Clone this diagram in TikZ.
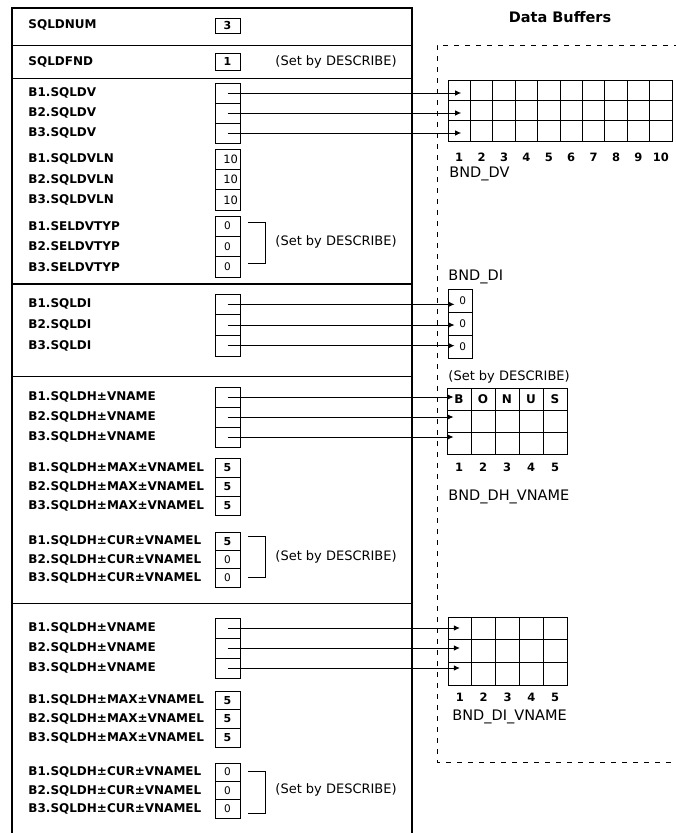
\documentclass[tikz,border=0pt]{standalone}
\usepackage{fontspec}
\setmainfont{DejaVu Sans}
\usetikzlibrary{arrows.meta,calc,positioning}

\tikzset{
  fld/.style={anchor=west, inner sep=0pt, font=\fontsize{12}{14}\selectfont\bfseries},
  slot/.style={draw, minimum width=25pt, minimum height=#1, inner sep=0pt, font=\fontsize{10.5}{12}\selectfont},
  note/.style={anchor=west, inner sep=0pt, font=\fontsize{13}{15}\selectfont},
  bufcell/.style={draw, inner sep=0pt},
  idx/.style={inner sep=0pt, font=\fontsize{11.5}{13}\selectfont\bfseries},
  bufname/.style={anchor=west, inner sep=0pt, font=\fontsize{14.5}{17}\selectfont},
  ptr/.style={-{Latex[length=6pt,width=5.5pt]}},
}

\begin{document}
\begin{tikzpicture}[x=1pt, y=-1pt, line width=0.9pt]
\useasboundingbox (0,0) rectangle (676,833);
\fill[white] (0,0) rectangle (676,833);
\clip (0,0) rectangle (676,833);

% Descriptor area
\draw[line width=1.2pt] (12,840) |- (412,8) -- (412,840);
\draw (12,45) -- (412,45);
\draw (12,78) -- (412,78);
\draw[line width=2pt] (12,284) -- (412,284);
\draw (12,376) -- (412,376);
\draw (12,603) -- (412,603);

% SQLDNUM / SQLDFND
\node[fld] (lnum) at (28,25) {SQLDNUM};
\node[slot=15pt, font=\fontsize{11}{13}\selectfont\bfseries] (num) at (227.5,25.5) {3};
\node[fld] (lfnd) at (28,62) {SQLDFND};
\node[slot=17pt, font=\fontsize{11}{13}\selectfont\bfseries] (fnd) at (227.5,61.5) {1};
\node[note] (sfnd) at (275,62) {(Set by DESCRIBE)};

% SQLDV pointers
\foreach \i in {1,2,3} {
  \node[slot=20pt] (dv\i) at (227.5,73+20*\i) {};
  \node[fld] (ldv\i) at (28,73+20*\i) {B\i.SQLDV};
}
% SQLDVLN lengths
\foreach \i in {1,2,3} {
  \node[slot=20.33pt, text width=21pt, align=right, inner xsep=2pt, font=\fontsize{11.5}{13}\selectfont] (vln\i) at (227.5,138.83+20.33*\i) {10};
  \node[fld] (lvln\i) at (28,138.83+20.33*\i) {B\i.SQLDVLN};
}
% SELDVTYP types
\foreach \i in {1,2,3} {
  \node[slot=20.33pt] (ty\i) at (227.5,205.83+20.33*\i) {0};
  \node[fld] (lty\i) at (28,205.83+20.33*\i) {B\i.SELDVTYP};
}
\draw ([xshift=8pt,yshift=4pt]ty1.east) -- ++(17,0) |- ([xshift=8pt,yshift=3pt]ty3.east);
\node[note] (sty) at (275,242) {(Set by DESCRIBE)};

% SQLDI pointers
\foreach \i in {1,2,3} {
  \node[slot=20.67pt] (di\i) at (227.5,283.67+20.67*\i) {};
  \node[fld] (ldi\i) at (28,283.67+20.67*\i) {B\i.SQLDI};
}

% first SQLDH group
\foreach \i in {1,2,3} {
  \node[slot=20pt] (dh\i) at (227.5,377+20*\i) {};
  \node[fld] (ldh\i) at (28,377+20*\i) {B\i.SQLDH±VNAME};
}
\foreach \i in {1,2,3} {
  \node[slot=19pt, font=\fontsize{11}{13}\selectfont\bfseries] (mx\i) at (227.5,448.5+19*\i) {5};
  \node[fld] (lmx\i) at (28,448.5+19*\i) {B\i.SQLDH±MAX±VNAMEL};
}
\foreach \i/\v in {1/{\bfseries\fontsize{11}{13}\selectfont 5},2/0,3/0} {
  \node[slot=18.33pt] (cu\i) at (227.5,522.83+18.33*\i) {\v};
  \node[fld] (lcu\i) at (28,522.83+18.33*\i) {B\i.SQLDH±CUR±VNAMEL};
}
\draw ([xshift=8pt,yshift=5pt]cu1.east) -- ++(17,0) |- ([xshift=8pt]cu3.east);
\node[note] (scu) at (275,557) {(Set by DESCRIBE)};

% second SQLDH group
\foreach \i in {1,2,3} {
  \node[slot=20pt] (dhh\i) at (227.5,608+20*\i) {};
  \node[fld] (ldhh\i) at (28,608+20*\i) {B\i.SQLDH±VNAME};
}
\foreach \i in {1,2,3} {
  \node[slot=18.67pt, font=\fontsize{11}{13}\selectfont\bfseries] (mxx\i) at (227.5,681.67+18.67*\i) {5};
  \node[fld] (lmxx\i) at (28,681.67+18.67*\i) {B\i.SQLDH±MAX±VNAMEL};
}
\foreach \i in {1,2,3} {
  \node[slot=18.33pt] (cuu\i) at (227.5,753.83+18.33*\i) {0};
  \node[fld] (lcuu\i) at (28,753.83+18.33*\i) {B\i.SQLDH±CUR±VNAMEL};
}
\draw ([xshift=8pt,yshift=1pt]cuu1.east) -- ++(17,0) |- ([xshift=8pt,yshift=-5pt]cuu3.east);
\node[note] (scuu) at (275,790) {(Set by DESCRIBE)};

% Data buffers
\node[inner sep=0pt, font=\fontsize{14.5}{17}\selectfont\bfseries] (title) at (560,17) {Data Buffers};
\draw[dash pattern=on 5pt off 6pt] (690,45) -| (437,762) -- (690,762);

% BND_DV
\foreach \r in {1,2,3}
  \foreach \c in {1,...,10}
    \node[bufcell, minimum width=22.4pt, minimum height=20.33pt] (dvb\r\c) at (448+22.4*\c-11.2,80+20.33*\r-10.17) {};
\foreach \c in {1,...,10}
  \node[idx] (dvn\c) at (448+22.4*\c-11.2,157) {\c};
\node[bufname] (bdv) at (449,174) {BND\_DV};
\foreach \i in {1,2,3}
  \draw[ptr, shorten >=-2pt] (dv\i.center) -- (dv\i.center -| dvb\i1.center);

% BND_DI
\node[bufname] (bdi) at (448,277) {BND\_DI};
\foreach \i in {1,2,3}
  \node[bufcell, minimum width=24pt, minimum height=23pt, text width=12pt, align=right, inner xsep=6pt, font=\fontsize{10.5}{12}\selectfont] (dib\i) at (460,277.5+23*\i) {0};
\foreach \i in {1,2,3}
  \draw[ptr, shorten >=-7pt] (di\i.center) -- (di\i.center -| dib\i.west);

% BND_DH_VNAME
\node[note] (sdh) at (448,377) {(Set by DESCRIBE)};
\foreach \r in {1,2,3}
  \foreach \c in {1,...,5}
    \node[bufcell, minimum width=24pt, minimum height=22pt] (dhb\r\c) at (447+24*\c-12,388+22*\r-11) {};
\foreach \c/\ch in {1/B,2/O,3/N,4/U,5/S}
  \node[font=\fontsize{12}{14}\selectfont\bfseries, inner sep=0pt] (dhl\c) at (dhb1\c) {\ch};
\foreach \c in {1,...,5}
  \node[idx] (dhn\c) at (447+24*\c-12,467) {\c};
\node[bufname] (bdh) at (448,497) {BND\_DH\_VNAME};
\foreach \i in {1,2,3}
  \draw[ptr, shorten >=-7pt] (dh\i.center) -- (dh\i.center -| dhb\i1.west);

% BND_DI_VNAME
\foreach \r in {1,2,3}
  \foreach \c in {1,...,5}
    \node[bufcell, minimum width=23.8pt, minimum height=22.67pt] (ivb\r\c) at (448+23.8*\c-11.9,617+22.67*\r-11.33) {};
\foreach \c in {1,...,5}
  \node[idx] (ivn\c) at (448+23.8*\c-11.9,697) {\c};
\node[bufname] (biv) at (452,717) {BND\_DI\_VNAME};
\foreach \i in {1,2,3}
  \draw[ptr] (dhh\i.center) -- (dhh\i.center -| ivb\i1.center);
\end{tikzpicture}
\end{document}
